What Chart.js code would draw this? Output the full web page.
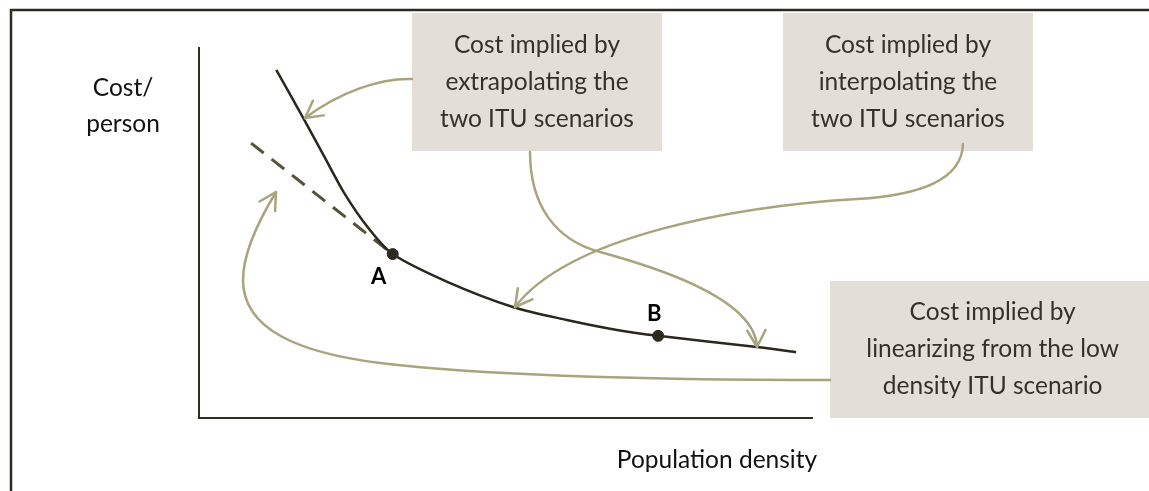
<!DOCTYPE html>
<html>
<head>
<meta charset="utf-8">
<script src="https://cdn.jsdelivr.net/npm/chart.js@4.4.0/dist/chart.umd.min.js"></script>
<style>
  html, body { margin: 0; padding: 0; background: #fff; }
  canvas { display: block; }
</style>
</head>
<body>
<canvas id="myChart" width="1149" height="491"></canvas>
<script>
// Cost per person curve (axis units 0-100)
const curveX = [12.6, 17.1, 20.4, 23.8, 27.6, 31.6, 40.5, 51.2, 60.0, 68.2, 74.9, 91.0, 97.4];
const curveY = [94.1, 80.8, 70.8, 60.5, 51.4, 44.3, 36.8, 30.0, 26.5, 23.8, 22.2, 19.2, 17.8];

// Linearized (tangent) line ending at A
const tangentX = [8.5, 31.6];
const tangentY = [74.3, 44.3];

// The two ITU scenarios
const pointNames = ['A', 'B'];
const pointX = [31.6, 74.9];
const pointY = [44.3, 22.2];

const yTitle = ['Cost/', 'person'];
const xTitle = 'Population density';

const boxTexts = [
  ['Cost implied by', 'extrapolating the', 'two ITU scenarios'],
  ['Cost implied by', 'interpolating the', 'two ITU scenarios'],
  ['Cost implied by', 'linearizing from the low', 'density ITU scenario']
];

// Callout boxes, in axis units: [xMin, xMax, yMin, yMax]
const boxes = [
  [34.75, 75.53, 72.16, 109.46],
  [95.27, 136.05, 72.16, 109.46],
  [102.94, 156.0, 0, 37.03]
];

// Connector arrows as chains of cubic beziers (axis units), ending at the arrow tip
const arrows = [
  [[34.75, 91.62], [29.53, 91.89], [23.00, 88.11], [17.29, 81.08]],
  [[54.00, 71.89], [54.00, 57.57], [58.08, 48.11], [65.42, 44.86],
                   [71.94, 41.89], [90.70, 33.24], [91.03, 19.19]],
  [[124.63, 74.05], [124.47, 64.32], [117.62, 60.27], [107.34, 59.19],
                    [88.25, 57.30], [60.52, 49.46], [51.55, 30.00]],
  [[102.94, 10.27], [73.57, 10.27], [45.84, 11.62], [29.53, 14.86],
                    [16.48, 17.57], [7.18, 23.78], [7.18, 37.30],
                    [7.18, 45.41], [10.28, 54.86], [12.56, 61.08]]
];

const FONT = 'Lato, "Open Sans", sans-serif';
const ink = '#2e2a20';
const olive = '#a8a47e';

const diagram = {
  id: 'diagram',
  beforeDraw(chart) {
    const ctx = chart.ctx;
    ctx.save();
    ctx.strokeStyle = ink;
    ctx.lineWidth = 2.5;
    ctx.beginPath();
    ctx.moveTo(11, chart.height);
    ctx.lineTo(11, 10);
    ctx.lineTo(chart.width, 10);
    ctx.stroke();
    ctx.restore();
  },
  afterDatasetsDraw(chart) {
    const ctx = chart.ctx;
    const sx = chart.scales.x, sy = chart.scales.y;
    const px = v => sx.getPixelForValue(v);
    const py = v => sy.getPixelForValue(v);
    ctx.save();

    // boxes
    boxes.forEach((b, i) => {
      const x0 = px(b[0]), x1 = px(b[1]), y0 = py(b[3]), y1 = py(b[2]);
      ctx.fillStyle = '#e3dfd8';
      ctx.fillRect(x0, y0, x1 - x0, y1 - y0);
      ctx.fillStyle = '#35302a';
      ctx.font = '24.5px ' + FONT;
      ctx.textAlign = 'center';
      ctx.textBaseline = 'middle';
      const cx = (x0 + x1) / 2, cy = (y0 + y1) / 2;
      boxTexts[i].forEach((t, j) => ctx.fillText(t, cx, cy + (j - 1) * 37));
    });

    // arrows
    ctx.strokeStyle = olive;
    ctx.lineWidth = 2.5;
    ctx.lineCap = 'round';
    ctx.lineJoin = 'round';
    arrows.forEach(a => {
      const p = a.map(q => [px(q[0]), py(q[1])]);
      ctx.beginPath();
      ctx.moveTo(p[0][0], p[0][1]);
      for (let k = 1; k + 2 < p.length; k += 3) {
        ctx.bezierCurveTo(p[k][0], p[k][1], p[k + 1][0], p[k + 1][1], p[k + 2][0], p[k + 2][1]);
      }
      ctx.stroke();
      const tip = p[p.length - 1], prev = p[p.length - 2];
      const back = Math.atan2(prev[1] - tip[1], prev[0] - tip[0]);
      const len = 19, spread = 0.5;
      ctx.beginPath();
      ctx.moveTo(tip[0] + len * Math.cos(back - spread), tip[1] + len * Math.sin(back - spread));
      ctx.lineTo(tip[0], tip[1]);
      ctx.lineTo(tip[0] + len * Math.cos(back + spread), tip[1] + len * Math.sin(back + spread));
      ctx.stroke();
    });

    // axis titles
    ctx.fillStyle = '#111';
    ctx.font = '24.5px ' + FONT;
    ctx.textAlign = 'center';
    ctx.textBaseline = 'middle';
    ctx.fillText(yTitle[0], 123, 88);
    ctx.fillText(yTitle[1], 123, 124);
    ctx.fillText(xTitle, 717, 460);

    // point labels
    ctx.fillStyle = '#000';
    ctx.font = 'bold 22px ' + FONT;
    const offs = [[-14, 23], [-4, -22]];
    pointNames.forEach((n, i) => {
      ctx.fillText(n, px(pointX[i]) + offs[i][0], py(pointY[i]) + offs[i][1]);
    });
    ctx.restore();
  }
};

const hideSize = (s) => {
  if (s.isHorizontal()) s.height = 0; else s.width = 0;
};

const ctxEl = document.getElementById('myChart').getContext('2d');
new Chart(ctxEl, {
  type: 'scatter',
  data: {
    datasets: [
      {
        label: 'Cost curve',
        data: curveX.map((x, i) => ({ x: x, y: curveY[i] })),
        showLine: true,
        borderColor: '#2b271e',
        borderWidth: 2.5,
        pointRadius: 0,
        tension: 0.3,
        order: 2
      },
      {
        label: 'Linearized',
        data: tangentX.map((x, i) => ({ x: x, y: tangentY[i] })),
        showLine: true,
        borderColor: '#57523e',
        borderWidth: 3,
        borderDash: [16, 10],
        pointRadius: 0,
        order: 3
      },
      {
        label: 'Scenarios',
        data: pointX.map((x, i) => ({ x: x, y: pointY[i] })),
        backgroundColor: ink,
        borderColor: ink,
        pointRadius: 5.5,
        order: 1
      }
    ]
  },
  options: {
    responsive: false,
    animation: false,
    devicePixelRatio: 1,
    layout: { padding: { left: 199, right: 337, top: 48, bottom: 73 } },
    plugins: { legend: { display: false }, tooltip: { enabled: false } },
    scales: {
      x: {
        type: 'linear', min: 0, max: 100,
        grid: { display: false },
        ticks: { display: false },
        border: { display: true, color: '#332e23', width: 2 },
        afterFit: hideSize
      },
      y: {
        type: 'linear', min: 0, max: 100,
        grid: { display: false },
        ticks: { display: false },
        border: { display: true, color: '#332e23', width: 2 },
        afterFit: hideSize
      }
    }
  },
  plugins: [diagram]
});
</script>
</body>
</html>
